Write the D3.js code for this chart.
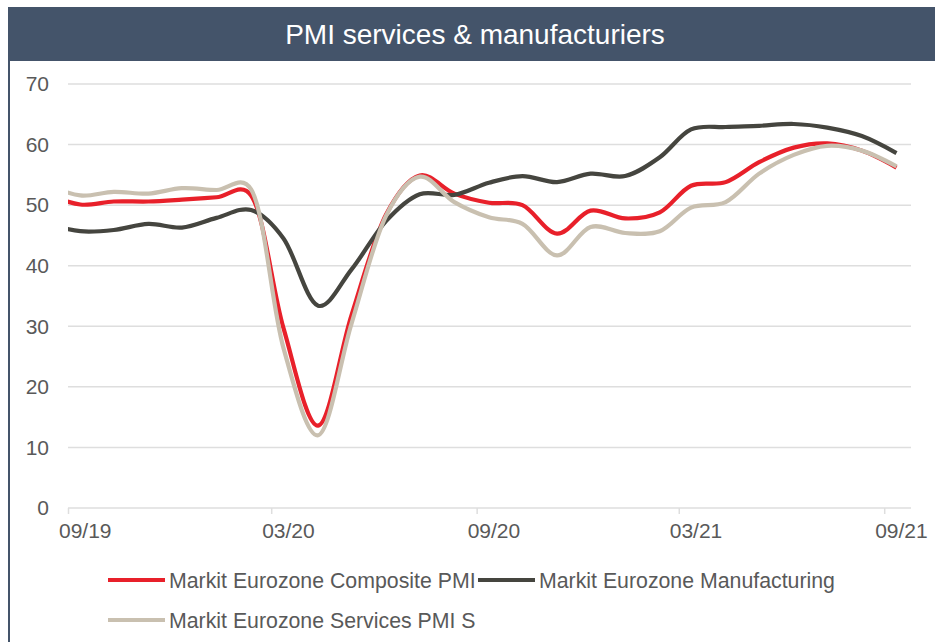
<!DOCTYPE html>
<html>
<head>
<meta charset="utf-8">
<script src="https://cdn.jsdelivr.net/npm/d3@7"></script>
<style>
    body { margin: 0; background: #fff; }
    svg text { font-family: "Liberation Sans", Arial, sans-serif; }
</style>
</head>
<body>
<svg id="chart" width="935" height="642"></svg>
<script>
    'use strict';

    // monthly readings, Aug 2019 .. Sep 2021
    var months = [
        '2019-08', '2019-09', '2019-10', '2019-11', '2019-12',
        '2020-01', '2020-02', '2020-03', '2020-04', '2020-05', '2020-06',
        '2020-07', '2020-08', '2020-09', '2020-10', '2020-11', '2020-12',
        '2021-01', '2021-02', '2021-03', '2021-04', '2021-05', '2021-06',
        '2021-07', '2021-08', '2021-09'
    ];
    var composite = [
        51.9, 50.1, 50.6, 50.6, 50.9,
        51.3, 51.6, 29.7, 13.6, 31.9, 48.5,
        54.9, 51.9, 50.4, 50.0, 45.3, 49.1,
        47.8, 48.8, 53.2, 53.8, 57.1, 59.5,
        60.2, 59.0, 56.2
    ];
    var manufacturing = [
        47.0, 45.7, 45.9, 46.9, 46.3,
        47.9, 49.2, 44.5, 33.4, 39.4, 47.4,
        51.8, 51.7, 53.7, 54.8, 53.8, 55.2,
        54.8, 57.9, 62.5, 62.9, 63.1, 63.4,
        62.8, 61.4, 58.6
    ];
    var services = [
        53.5, 51.6, 52.2, 51.9, 52.8,
        52.5, 52.6, 26.4, 12.0, 30.5, 48.3,
        54.7, 50.5, 48.0, 46.9, 41.7, 46.4,
        45.4, 45.7, 49.6, 50.5, 55.2, 58.3,
        59.8, 59.0, 56.4
    ];
    var seriesNames = [
        'Markit Eurozone Composite PMI',
        'Markit Eurozone Manufacturing',
        'Markit Eurozone Services PMI S'
    ];
    var tickMonths = ['2019-09', '2020-03', '2020-09', '2021-03', '2021-09'];
    var yTicks = [0, 10, 20, 30, 40, 50, 60, 70];
    var title = 'PMI services & manufacturiers';

    var FRAME_COLOR = '#44546a',
        TEXT_COLOR  = '#595959',
        GRID_COLOR  = '#dedede',
        COLORS      = ['#e8202a', '#45453f', '#c9c0b0'],
        PLOT        = { left: 68, right: 911, top: 84, bottom: 508 };

    var parseMonth = d3.timeParse('%Y-%m');
    var midMonth = function (m) { return d3.timeDay.offset(parseMonth(m), 11); };

    var svg = d3.select('#chart');

    // frame + title bar
    svg.append('rect')
        .attr('x', 9).attr('y', 8)
        .attr('width', 960).attr('height', 680)
        .attr('fill', '#fff')
        .attr('stroke', FRAME_COLOR)
        .attr('stroke-width', 2);
    svg.append('rect')
        .attr('x', 9).attr('y', 8)
        .attr('width', 930).attr('height', 53)
        .attr('fill', FRAME_COLOR);
    svg.append('text')
        .attr('x', 475).attr('y', 44)
        .attr('text-anchor', 'middle')
        .attr('fill', '#fff')
        .style('font-size', '28px')
        .text(title);

    var x = d3.scaleTime()
        .domain([parseMonth('2019-09'), new Date(2021, 8, 25)])
        .range([PLOT.left, PLOT.right]);
    var y = d3.scaleLinear()
        .domain([0, 70])
        .range([PLOT.bottom, PLOT.top]);

    // gridlines
    svg.append('g')
        .selectAll('line')
        .data(yTicks)
        .join('line')
        .attr('x1', PLOT.left).attr('x2', PLOT.right)
        .attr('y1', function (d) { return y(d); })
        .attr('y2', function (d) { return y(d); })
        .attr('stroke', GRID_COLOR)
        .attr('stroke-width', 1.5);

    // y axis labels
    var yAxis = svg.append('g')
        .attr('transform', 'translate(' + (PLOT.left - 19) + ',0)')
        .call(d3.axisLeft(y).tickValues(yTicks).tickSize(0).tickPadding(0));
    yAxis.select('.domain').remove();
    yAxis.selectAll('text')
        .attr('fill', TEXT_COLOR)
        .style('font-size', '21px');

    // x axis: ticks at month start, labels centred in the month
    var halfMonth = x(parseMonth('2019-10')) / 2 - x(parseMonth('2019-09')) / 2;
    var xAxis = svg.append('g')
        .attr('transform', 'translate(0,' + PLOT.bottom + ')')
        .call(d3.axisBottom(x)
            .tickValues(tickMonths.map(parseMonth))
            .tickFormat(d3.timeFormat('%m/%y'))
            .tickSize(6)
            .tickSizeOuter(0)
            .tickPadding(9));
    xAxis.select('.domain').remove();
    xAxis.selectAll('line')
        .attr('stroke', GRID_COLOR)
        .attr('stroke-width', 1.5);
    xAxis.selectAll('text')
        .attr('fill', TEXT_COLOR)
        .attr('dx', halfMonth)
        .style('font-size', '21px');

    // lines
    svg.append('clipPath')
        .attr('id', 'plot-clip')
        .append('rect')
        .attr('x', PLOT.left).attr('y', 0)
        .attr('width', PLOT.right - PLOT.left).attr('height', 642);

    var line = d3.line()
        .x(function (d) { return x(d.date); })
        .y(function (d) { return y(d.value); })
        .curve(d3.curveCatmullRom.alpha(0.2));

    var series = [composite, manufacturing, services].map(function (values, i) {
        return {
            name: seriesNames[i],
            color: COLORS[i],
            points: values.map(function (v, j) { return { date: midMonth(months[j]), value: v }; })
        };
    });

    svg.append('g')
        .attr('clip-path', 'url(#plot-clip)')
        .selectAll('path')
        .data(series)
        .join('path')
        .attr('d', function (d) { return line(d.points); })
        .attr('fill', 'none')
        .attr('stroke', function (d) { return d.color; })
        .attr('stroke-width', 4.2)
        .attr('stroke-linejoin', 'round');

    // legend
    var legendPos = [
        { x: 108, y: 580 },
        { x: 478, y: 580 },
        { x: 108, y: 620 }
    ];
    var legend = svg.append('g')
        .selectAll('g')
        .data(series)
        .join('g')
        .attr('transform', function (d, i) {
            return 'translate(' + legendPos[i].x + ',' + legendPos[i].y + ')';
        });
    legend.append('line')
        .attr('x1', 0).attr('x2', 57)
        .attr('stroke', function (d) { return d.color; })
        .attr('stroke-width', 4.2);
    legend.append('text')
        .attr('x', 61).attr('y', 7.5)
        .attr('fill', TEXT_COLOR)
        .style('font-size', '21.3px')
        .text(function (d) { return d.name; });
</script>
</body>
</html>
